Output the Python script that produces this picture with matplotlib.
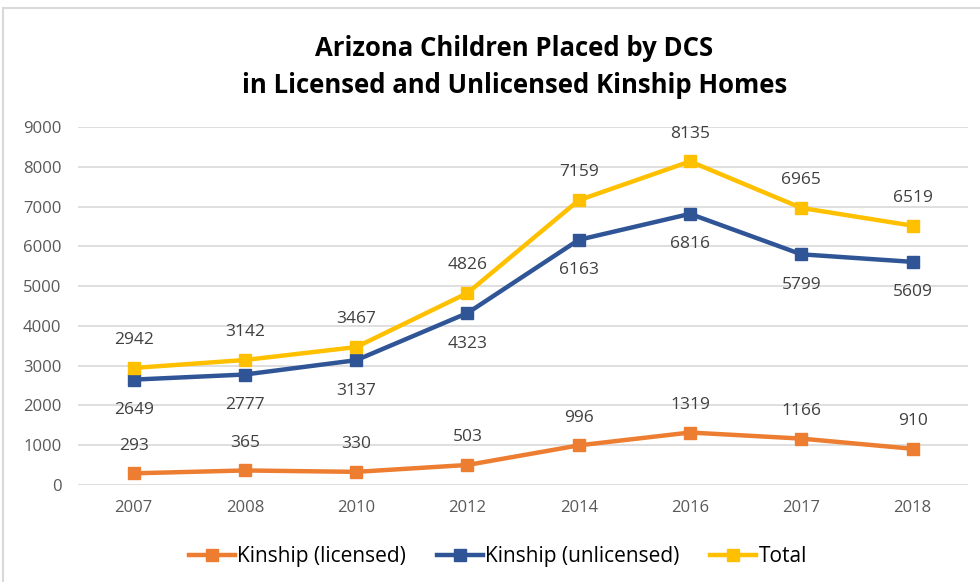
import matplotlib.pyplot as plt
from matplotlib.patches import Rectangle

# ── data ──────────────────────────────────────────────────────────────────────
years = ["2007", "2008", "2010", "2012", "2014", "2016", "2017", "2018"]
licensed = [293, 365, 330, 503, 996, 1319, 1166, 910]
unlicensed = [2649, 2777, 3137, 4323, 6163, 6816, 5799, 5609]
total = [2942, 3142, 3467, 4826, 7159, 8135, 6965, 6519]

ORANGE = "#ED7D31"
BLUE = "#2F5597"
GOLD = "#FFC000"
TICK = "#595959"
LABEL = "#404040"

plt.rcParams["font.family"] = ["Open Sans", "DejaVu Sans"]

fig = plt.figure(figsize=(9.8, 5.82), dpi=100)
ax = fig.add_axes([0.0796, 0.1667, 0.9084, 0.6151])

x = list(range(len(years)))
series = [
    ("Kinship (licensed)", licensed, ORANGE, 20),
    ("Kinship (unlicensed)", unlicensed, BLUE, -22),
    ("Total", total, GOLD, 20),
]
for name, vals, col, off in series:
    ax.plot(x, vals, color=col, lw=3.2, marker="s", ms=8.5, label=name,
            solid_joinstyle="round", zorder=3)
    for xi, v in zip(x, vals):
        ax.annotate(str(v), (xi, v), xytext=(0, off), textcoords="offset points",
                    ha="center", va="center", fontsize=12.5, color=LABEL)

ax.set_xlim(-0.5, len(years) - 0.5)
ax.set_ylim(0, 9000)
ax.set_yticks(range(0, 9001, 1000))
ax.set_xticks(x)
ax.set_xticklabels(years)
ax.tick_params(axis="both", length=0, labelsize=12, labelcolor=TICK)
ax.tick_params(axis="x", pad=11)
ax.tick_params(axis="y", pad=12)
ax.grid(axis="y", color="#D9D9D9", lw=1.2)
ax.set_axisbelow(True)
for s in ax.spines.values():
    s.set_visible(False)

fig.text(0.525, 0.917, "Arizona Children Placed by DCS", ha="center", va="center",
         fontsize=18.5, fontweight="bold", color="black")
fig.text(0.525, 0.853, "in Licensed and Unlicensed Kinship Homes", ha="center",
         va="center", fontsize=18.5, fontweight="bold", color="black")

fig.legend(loc="center", bbox_to_anchor=(0.508, 0.044), ncol=3, frameon=False,
           fontsize=15, handlelength=2.2, handletextpad=0.1, columnspacing=1.5,
           markerscale=1.0)

# light chart border (top and left edges visible)
fig.add_artist(Rectangle((0.003, -0.05), 1.2, 1.037, transform=fig.transFigure,
                         fill=False, edgecolor="#D9D9D9", lw=1.5))

fig.savefig("out.png", dpi=100)
